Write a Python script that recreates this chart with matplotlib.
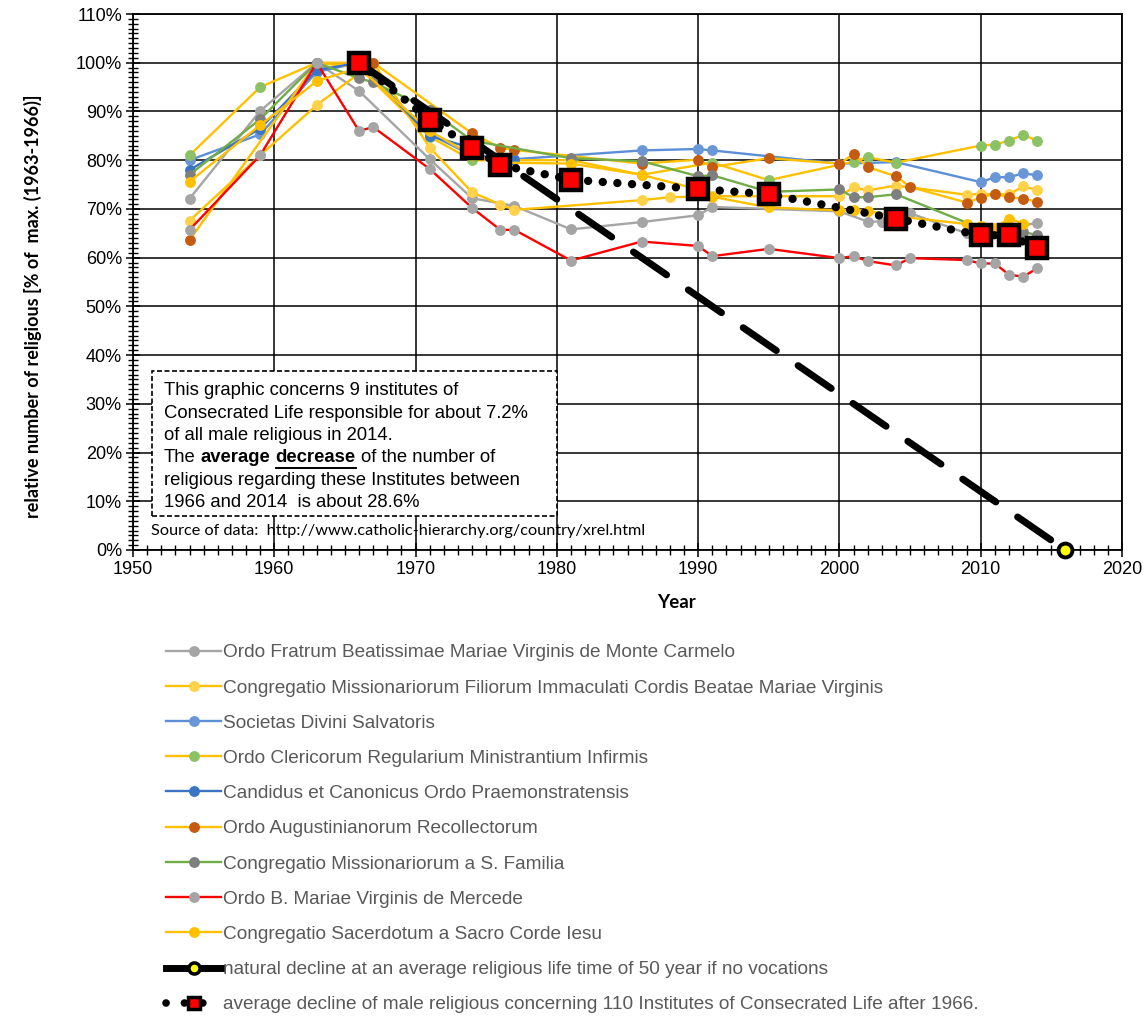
import numpy as np
import matplotlib
matplotlib.use("Agg")
import matplotlib.pyplot as plt
from matplotlib.lines import Line2D
from matplotlib.patches import Rectangle
from matplotlib.ticker import MultipleLocator, FuncFormatter

# --- data (percent of max 1963-1966) ---
labels = [
    "Ordo Fratrum Beatissimae Mariae Virginis de Monte Carmelo",
    "Congregatio Missionariorum Filiorum Immaculati Cordis Beatae Mariae Virginis",
    "Societas Divini Salvatoris",
    "Ordo Clericorum Regularium Ministrantium Infirmis",
    "Candidus et Canonicus Ordo Praemonstratensis",
    "Ordo Augustinianorum Recollectorum",
    "Congregatio Missionariorum a S. Familia",
    "Ordo B. Mariae Virginis de Mercede",
    "Congregatio Sacerdotum a Sacro Corde Iesu",
]

carm_years = [1954, 1959, 1963, 1966, 1971, 1974, 1977, 1981, 1986, 1990, 1991,
              2000, 2002, 2003, 2005, 2009, 2010, 2014]
carm_vals = [72.1, 90.1, 100, 94.2, 80.2, 72.2, 70.6, 65.8, 67.3, 68.7, 70.4,
             69.5, 67.4, 67.4, 69.1, 65.0, 65.3, 67.1]

cmf_years = [1954, 1959, 1963, 1967, 1971, 1974, 1976, 1977, 1986, 1988, 1991,
             2000, 2001, 2002, 2004, 2009, 2010, 2011, 2012, 2013, 2014]
cmf_vals = [67.6, 81.0, 91.3, 100, 82.6, 73.4, 70.9, 69.8, 71.8, 72.4, 72.6,
            72.6, 74.4, 73.8, 74.8, 72.9, 73.1, 73.0, 73.0, 74.6, 73.9]

sds_years = [1954, 1959, 1963, 1966, 1971, 1974, 1977, 1986, 1990, 1991, 2000,
             2004, 2010, 2011, 2012, 2013, 2014]
sds_vals = [80.0, 85.3, 98.1, 100, 85.3, 81.0, 80.2, 82.0, 82.3, 82.0, 79.3,
            79.6, 75.5, 76.5, 76.5, 77.3, 76.9]

cam_years = [1954, 1959, 1963, 1966, 1971, 1974, 1981, 1986, 1991, 1995, 2001,
             2002, 2004, 2010, 2011, 2012, 2013, 2014]
cam_vals = [81.0, 95.0, 100, 99.0, 84.8, 80.0, 80.0, 77.0, 79.5, 75.9, 79.7,
            80.6, 79.5, 83.0, 83.2, 84.0, 85.2, 84.0]

praem_years = [1954, 1959, 1963, 1966, 1971, 1977]
praem_vals = [78.0, 86.5, 98.5, 100, 85.0, 80.0]

oar_years = [1954, 1963, 1967, 1974, 1976, 1977, 1986, 1990, 1991, 1995, 2000,
             2001, 2002, 2004, 2005, 2009, 2010, 2011, 2012, 2013, 2014]
oar_vals = [63.6, 100, 100, 85.5, 82.5, 82.1, 79.3, 80.1, 78.6, 80.4, 79.3,
            81.2, 78.6, 76.7, 74.5, 71.3, 72.3, 73.1, 72.4, 72.1, 71.5]

msf_years = [1954, 1959, 1963, 1966, 1967, 1971, 1974, 1981, 1986, 1990, 1991,
             1995, 2000, 2001, 2002, 2004, 2010, 2012, 2013, 2014]
msf_vals = [77.0, 88.4, 100, 96.8, 96.0, 90.4, 84.0, 80.4, 79.8, 76.7, 76.9,
            73.5, 74.0, 72.4, 72.4, 73.0, 66.0, 65.3, 65.3, 64.6]

merc_years = [1954, 1959, 1963, 1966, 1967, 1971, 1974, 1976, 1977, 1981, 1986,
              1990, 1991, 1995, 2000, 2001, 2002, 2004, 2005, 2009, 2010, 2011,
              2012, 2013, 2014]
merc_vals = [65.7, 81.0, 100, 86.0, 86.8, 78.2, 70.2, 65.7, 65.7, 59.4, 63.3,
             62.4, 60.3, 61.8, 59.9, 60.3, 59.3, 58.4, 59.9, 59.5, 58.8, 58.8,
             56.5, 56.1, 57.8]

scj_years = [1954, 1959, 1963, 1966, 1971, 1974, 1976, 1981, 1986, 1990, 1991,
             1995, 2000, 2001, 2002, 2004, 2009, 2010, 2011, 2012, 2013]
scj_vals = [75.6, 87.2, 96.2, 99.0, 86.0, 81.0, 79.5, 79.3, 77.0, 74.0, 72.5,
            70.3, 69.7, 69.8, 69.6, 68.5, 66.9, 66.5, 66.1, 68.0, 67.0]

avg_years = [1966, 1971, 1974, 1976, 1981, 1990, 1995, 2004, 2010, 2012, 2014]
avg_vals = [100, 88.3, 82.6, 79.0, 76.0, 74.1, 73.0, 68.0, 64.6, 64.6, 61.9]

nat_years = [1966, 2016]
nat_vals = [100, 0]

avg_label = "average decline of male religious concerning 110 Institutes of Consecrated Life after 1966."
nat_label = "natural decline at an average religious life time of 50 year if no vocations"

# styles: (line colour, marker colour)
styles = [
    ("#A5A5A5", "#A5A5A5"),
    ("#FFC000", "#FFD24A"),
    ("#5B8FD6", "#6A96D8"),
    ("#FFC000", "#8CC265"),
    ("#3C74C4", "#3C74C4"),
    ("#FFC000", "#C55A11"),
    ("#70AD47", "#7F7F7F"),
    ("#FF0000", "#A5A5A5"),
    ("#FFC000", "#FFC000"),
]

series = [(carm_years, carm_vals), (cmf_years, cmf_vals), (sds_years, sds_vals),
          (cam_years, cam_vals), (praem_years, praem_vals), (oar_years, oar_vals),
          (msf_years, msf_vals), (merc_years, merc_vals), (scj_years, scj_vals)]

W, H = 1148, 1027
fig = plt.figure(figsize=(W / 100, H / 100), dpi=100)
ax = fig.add_axes([133 / W, 1 - 550 / H, (1122 - 133) / W, (550 - 14) / H])

handles = []
for (yrs, vals), lab, (lc, mc) in zip(series, labels, styles):
    h, = ax.plot(yrs, vals, color=lc, lw=1.7, marker="o", ms=6.8,
                 mfc=mc, mec=mc, label=lab, zorder=3)
    handles.append(h)

# natural decline
ax.plot(nat_years, nat_vals, color="black", lw=5, linestyle=(0, (5.8, 3.8)),
        dash_capstyle="round", zorder=5)
ax.plot(nat_years[-1:], nat_vals[-1:], ls="none", marker="o", ms=10, mfc="#FFFF00",
        mec="black", mew=2.8, zorder=7, clip_on=False)
handles.append(Line2D([], [], color="black", lw=5, marker="o", ms=8,
                      mfc="#FFFF00", mec="black", mew=2.5, label=nat_label))

# average of 110 institutes
dots = (0, (0.01, 1.75))
ax.plot(avg_years, avg_vals, color="black", lw=6, linestyle=dots,
        dash_capstyle="round", zorder=6)
ax.plot(avg_years, avg_vals, ls="none", marker="s", ms=14, mfc="#FF0000",
        mec="black", mew=3.2, zorder=7)
handles.append(Line2D([], [], color="black", lw=5.5, linestyle=(0, (0.01, 2.4)),
                      dash_capstyle="round", marker="s", ms=9, mfc="#FF0000",
                      mec="black", mew=2.5, label=avg_label))

ax.set_xlim(1950, 2020)
ax.set_ylim(0, 110)
ax.xaxis.set_major_locator(MultipleLocator(10))
ax.xaxis.set_minor_locator(MultipleLocator(1))
ax.yaxis.set_major_locator(MultipleLocator(10))
ax.yaxis.set_minor_locator(MultipleLocator(1))
ax.yaxis.set_major_formatter(FuncFormatter(lambda v, p: "%d%%" % round(v)))
ax.grid(True, which="major", color="black", lw=1.1, zorder=1)
ax.set_axisbelow(True)
for s in ax.spines.values():
    s.set_color("black")
    s.set_linewidth(1.3)
ax.tick_params(which="major", direction="inout", length=10, width=1.1,
               labelsize=13, colors="black", pad=3)
ax.tick_params(which="minor", direction="inout", length=7, width=1.0)
for t in ax.get_xticklabels() + ax.get_yticklabels():
    t.set_family("Liberation Sans")

ax.set_ylabel("relative number of religious [% of  max. (1963-1966)]",
              family="Lato", fontweight="bold", fontsize=13)
ax.yaxis.set_label_coords(-0.092, 0.455)
ax.set_xlabel("Year", family="Lato", fontweight="bold", fontsize=13.5)
ax.xaxis.set_label_coords(0.549, -0.082)

# note box
box = Rectangle((1951.37, 6.9), 28.63, 36.8 - 6.9, facecolor="white",
                edgecolor="black", lw=1.2, ls=(0, (3, 1.5)), zorder=2)
ax.add_patch(box)

fs = 13.3
px = lambda x, y: (x / W, 1 - y / H)
plain_lines = {
    390.7: "This graphic concerns 9 institutes of",
    413.3: "Consecrated Life responsible for about 7.2%",
    435.5: "of all male religious in 2014.",
    480.7: "religious regarding these Institutes between",
    502.7: "1966 and 2014  is about 28.6%",
}
for yy, txt in plain_lines.items():
    fig.text(*px(164, yy), txt, family="Liberation Sans", fontsize=fs, va="center",
             zorder=8)

# mixed line: The **average** __**decrease**__ of the number of
renderer = fig.canvas.get_renderer()
def measure(s, weight="normal"):
    t = fig.text(0, 0, s, family="Liberation Sans", fontsize=fs, fontweight=weight)
    w = t.get_window_extent(renderer).width
    t.remove()
    return w
sp = measure("x x") - measure("xx")
xcur = 164
pieces = [("The", "normal", False), ("average", "bold", False),
          ("decrease", "bold", True), ("of the number of", "normal", False)]
for txt, wgt, und in pieces:
    t = fig.text(*px(xcur, 458), txt, family="Liberation Sans", fontsize=fs,
                 fontweight=wgt, va="center", zorder=8)
    bb = t.get_window_extent(renderer)
    if und:
        fig.add_artist(Line2D([bb.x0 / W, bb.x1 / W], [1 - 468 / H, 1 - 468 / H],
                              color="black", lw=1.4, transform=fig.transFigure))
    xcur = bb.x1 + sp

fig.text(*px(151, 531), "Source of data:  http://www.catholic-hierarchy.org/country/xrel.html",
         family="Lato", fontsize=11.7, va="center")

leg = fig.legend(handles=handles, loc="upper left", bbox_to_anchor=(166 / W, 1 - 644 / H),
                 frameon=False, prop={"family": "Liberation Sans", "size": 13.7},
                 labelspacing=0.94, handlelength=2.9, handletextpad=0.12,
                 borderaxespad=0, borderpad=0)
for t in leg.get_texts():
    t.set_color("#595959")

fig.savefig("out.png", dpi=100)
